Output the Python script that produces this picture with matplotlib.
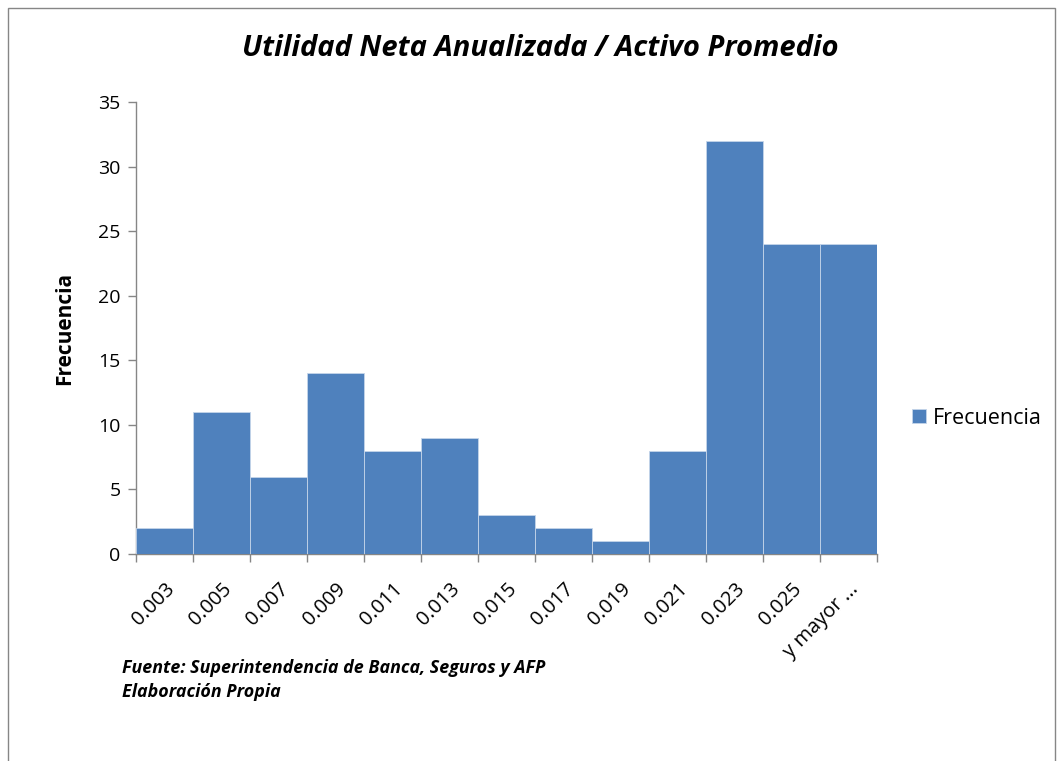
import numpy as np
import matplotlib
matplotlib.use("Agg")
import matplotlib.pyplot as plt
from matplotlib.patches import Rectangle

# --- data ---
bins = ["0.003", "0.005", "0.007", "0.009", "0.011", "0.013", "0.015",
        "0.017", "0.019", "0.021", "0.023", "0.025", "y mayor ..."]
freq = [2, 11, 6, 14, 8, 9, 3, 2, 1, 8, 32, 24, 24]

BLUE = "#4F81BD"
AXIS = "#868686"
FONT = ["Open Sans", "DejaVu Sans"]

plt.rcParams["font.family"] = FONT

fig = plt.figure(figsize=(10.6, 7.61), dpi=100)
fig.patch.set_facecolor("white")
ax = fig.add_axes([136 / 1060, 1 - 554 / 761, (877 - 136) / 1060, (554 - 102) / 761])

x = np.arange(len(bins))
ax.bar(x, freq, width=1.0, color=BLUE, edgecolor="#C5D5EA", linewidth=0.6,
       label="Frecuencia", zorder=3)

ax.set_xlim(-0.5, len(bins) - 0.5)
ax.set_ylim(0, 35)
ax.set_yticks(range(0, 36, 5))
ax.tick_params(axis="y", direction="out", length=6, width=1, color=AXIS,
               labelsize=14, pad=5)

ax.set_xticks(x)
ax.set_xticklabels(bins, rotation=45, ha="right", rotation_mode="anchor",
                   fontsize=14.5)
ax.tick_params(axis="x", which="major", length=0, pad=18)
ax.set_xticks(np.arange(len(bins) + 1) - 0.5, minor=True)
ax.tick_params(axis="x", which="minor", direction="out", length=6, width=1,
               color=AXIS)

for s in ["top", "right"]:
    ax.spines[s].set_visible(False)
for s in ["left", "bottom"]:
    ax.spines[s].set_color(AXIS)
    ax.spines[s].set_linewidth(1)

ax.set_ylabel("Frecuencia", fontsize=15, fontweight="bold")
ax.yaxis.set_label_coords((75 - 136) / 741, 0.5)

fig.text(540 / 1060, 1 - 48 / 761, "Utilidad Neta Anualizada / Activo Promedio",
         ha="center", va="center", fontsize=21, fontweight="bold",
         style="italic")

ax.legend(loc="center left", bbox_to_anchor=(1.035, 1 - (418 - 102) / (554 - 102)),
          frameon=False, fontsize=15.5, handlelength=0.65, handleheight=0.65,
          handletextpad=0.35, borderaxespad=0)

fig.text(122 / 1060, 1 - 668 / 761,
         "Fuente: Superintendencia de Banca, Seguros y AFP",
         ha="left", va="center", fontsize=12.9, fontweight="bold", style="italic")
fig.text(122 / 1060, 1 - 692 / 761, "Elaboración Propia",
         ha="left", va="center", fontsize=12.9, fontweight="bold", style="italic")

# outer chart frame
fig.patches.append(Rectangle((8 / 1060, -0.02), (1055 - 8) / 1060, 1.02 - 8 / 761,
                             transform=fig.transFigure, fill=False,
                             edgecolor=AXIS, linewidth=1))

fig.savefig("out.png", dpi=100, facecolor="white")
